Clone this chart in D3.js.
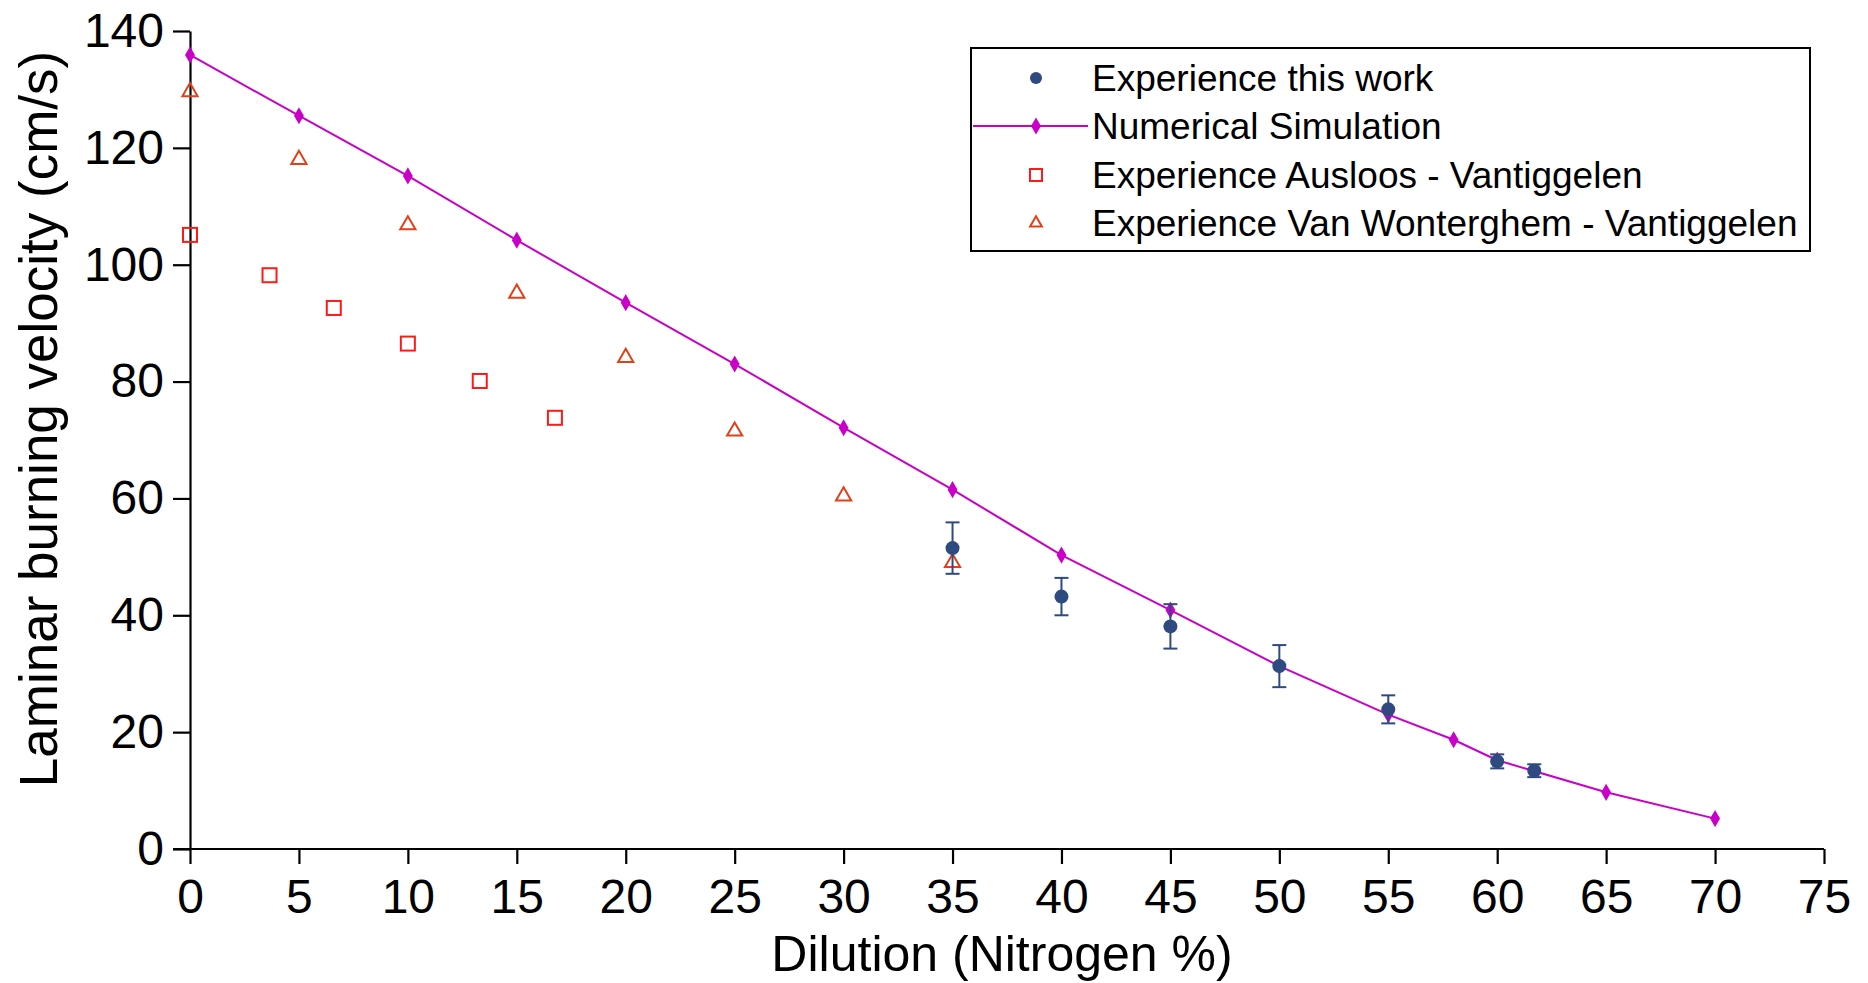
<!DOCTYPE html>
<html>
<head>
<meta charset="utf-8">
<script src="https://cdn.jsdelivr.net/npm/d3@7"></script>
<style>
  body { margin: 0; background: #fff; }
  text { font-family: "Liberation Sans", Arial, sans-serif; fill: #000; }
</style>
</head>
<body>
<div id="chart"></div>
<script>
// Data
var simX = [0, 5, 10, 15, 20, 25, 30, 35, 40, 45, 50, 55, 58, 60, 65, 70];
var simY = [135.9, 125.5, 115.2, 104.2, 93.5, 83.0, 72.1, 61.5, 50.3, 40.9, 31.3, 23.0, 18.7, 15.2, 9.7, 5.2];

var workX = [35, 40, 45, 50, 55, 60, 61.7];
var workY = [51.5, 43.2, 38.1, 31.3, 23.9, 15.0, 13.4];
var workErr = [4.4, 3.2, 3.8, 3.6, 2.4, 1.2, 1.1];

var auslX = [0, 3.65, 6.6, 10, 13.3, 16.75];
var auslY = [105.1, 98.2, 92.6, 86.5, 80.1, 73.8];

var vanwX = [0, 5, 10, 15, 20, 25, 30, 35];
var vanwY = [129.6, 118.0, 106.8, 95.1, 84.1, 71.5, 60.4, 49.0];

var xTicks = [0, 5, 10, 15, 20, 25, 30, 35, 40, 45, 50, 55, 60, 65, 70, 75];
var yTicks = [0, 20, 40, 60, 80, 100, 120, 140];

var legendLabels = ["Experience this work", "Numerical Simulation",
  "Experience Ausloos - Vantiggelen", "Experience Van Wonterghem - Vantiggelen"];

// Dimensions
var svgWidth = 1868;
var svgHeight = 983;
var margin = { top: 31, right: 44, bottom: 134, left: 190 };
var chartWidth = svgWidth - margin.left - margin.right;
var chartHeight = svgHeight - margin.top - margin.bottom;

var magenta = "#c800c8";
var navy = "#2e4a80";
var red = "#ff1a1a";
var orange = "#e0401a";

var svg = d3.select("#chart")
  .append("svg")
  .attr("width", svgWidth)
  .attr("height", svgHeight);

var chartGroup = svg.append("g")
  .attr("transform", `translate(${margin.left}, ${margin.top})`);

var x = d3.scaleLinear().domain([0, 75]).range([0, chartWidth]);
var y = d3.scaleLinear().domain([0, 140]).range([chartHeight, 0]);

// Axes
var bottomAxis = d3.axisBottom(x).tickValues(xTicks).tickSize(15).tickSizeOuter(0).tickPadding(15);
var leftAxis = d3.axisLeft(y).tickValues(yTicks).tickSize(17).tickSizeOuter(0).tickPadding(9);

var gx = chartGroup.append("g")
  .attr("transform", "translate(0, " + chartHeight + ")")
  .call(bottomAxis);
var gy = chartGroup.append("g").call(leftAxis);

[gx, gy].forEach(function(g) {
  g.selectAll("path, line").attr("stroke", "#000").attr("stroke-width", 2.2);
  g.selectAll("text").style("font-size", "48px").attr("fill", "#000");
  g.attr("font-family", null);
});
// x axis line extends left to the y tick length
gx.select(".domain").attr("d", "M-17,0H" + chartWidth);

// Axis titles
svg.append("text")
  .attr("x", 1002)
  .attr("y", 971)
  .attr("text-anchor", "middle")
  .style("font-size", "50px")
  .text("Dilution (Nitrogen %)");

svg.append("text")
  .attr("transform", "translate(57, 419) rotate(-90)")
  .attr("text-anchor", "middle")
  .style("font-size", "53px")
  .text("Laminar burning velocity (cm/s)");

// Numerical simulation line
var sim = simX.map(function(d, i) { return [d, simY[i]]; });
chartGroup.append("path")
  .datum(sim)
  .attr("fill", "none")
  .attr("stroke", magenta)
  .attr("stroke-width", 2)
  .attr("d", d3.line().x(d => x(d[0])).y(d => y(d[1])));

var diamond = d3.symbol().type(d3.symbolDiamond).size(85);
chartGroup.selectAll(".sim")
  .data(sim)
  .enter().append("path")
  .attr("transform", d => `translate(${x(d[0])}, ${y(d[1])})`)
  .attr("d", diamond)
  .attr("fill", magenta);

// Ausloos squares
chartGroup.selectAll(".ausl")
  .data(auslX.map((d, i) => [d, auslY[i]]))
  .enter().append("rect")
  .attr("x", d => x(d[0]) - 7)
  .attr("y", d => y(d[1]) - 7)
  .attr("width", 14)
  .attr("height", 14)
  .attr("fill", "none")
  .attr("stroke", red)
  .attr("stroke-width", 2);

// Van Wonterghem triangles
var tri = d3.symbol().type(d3.symbolTriangle).size(100);
chartGroup.selectAll(".vanw")
  .data(vanwX.map((d, i) => [d, vanwY[i]]))
  .enter().append("path")
  .attr("transform", d => `translate(${x(d[0])}, ${y(d[1])})`)
  .attr("d", tri)
  .attr("fill", "none")
  .attr("stroke", orange)
  .attr("stroke-width", 2);

// Experience this work with error bars
var work = workX.map((d, i) => ({ x: d, y: workY[i], e: workErr[i] }));
var eb = chartGroup.selectAll(".work")
  .data(work)
  .enter().append("g")
  .attr("stroke", navy)
  .attr("stroke-width", 2);
eb.append("line")
  .attr("x1", d => x(d.x)).attr("x2", d => x(d.x))
  .attr("y1", d => y(d.y + d.e)).attr("y2", d => y(d.y - d.e));
eb.append("line")
  .attr("x1", d => x(d.x) - 7).attr("x2", d => x(d.x) + 7)
  .attr("y1", d => y(d.y + d.e)).attr("y2", d => y(d.y + d.e));
eb.append("line")
  .attr("x1", d => x(d.x) - 7).attr("x2", d => x(d.x) + 7)
  .attr("y1", d => y(d.y - d.e)).attr("y2", d => y(d.y - d.e));
eb.append("circle")
  .attr("cx", d => x(d.x)).attr("cy", d => y(d.y))
  .attr("r", 7)
  .attr("fill", navy)
  .attr("stroke", "none");

// Legend
var legend = svg.append("g");
legend.append("rect")
  .attr("x", 971).attr("y", 48)
  .attr("width", 839).attr("height", 203)
  .attr("fill", "#fff")
  .attr("stroke", "#000")
  .attr("stroke-width", 2);

var rowY = [78, 126, 175, 223];
legend.selectAll("text")
  .data(legendLabels)
  .enter().append("text")
  .attr("x", 1092)
  .attr("y", (d, i) => rowY[i] + 13)
  .style("font-size", "37px")
  .text(d => d);

legend.append("circle").attr("cx", 1036).attr("cy", rowY[0]).attr("r", 6).attr("fill", navy);
legend.append("line")
  .attr("x1", 973).attr("x2", 1088)
  .attr("y1", rowY[1]).attr("y2", rowY[1])
  .attr("stroke", magenta).attr("stroke-width", 2);
legend.append("path")
  .attr("transform", `translate(1036, ${rowY[1]})`)
  .attr("d", diamond).attr("fill", magenta);
legend.append("rect")
  .attr("x", 1030).attr("y", rowY[2] - 6)
  .attr("width", 12).attr("height", 12)
  .attr("fill", "none").attr("stroke", red).attr("stroke-width", 2);
legend.append("path")
  .attr("transform", `translate(1036, ${rowY[3]})`)
  .attr("d", d3.symbol().type(d3.symbolTriangle).size(60))
  .attr("fill", "none").attr("stroke", orange).attr("stroke-width", 2);
</script>
</body>
</html>
